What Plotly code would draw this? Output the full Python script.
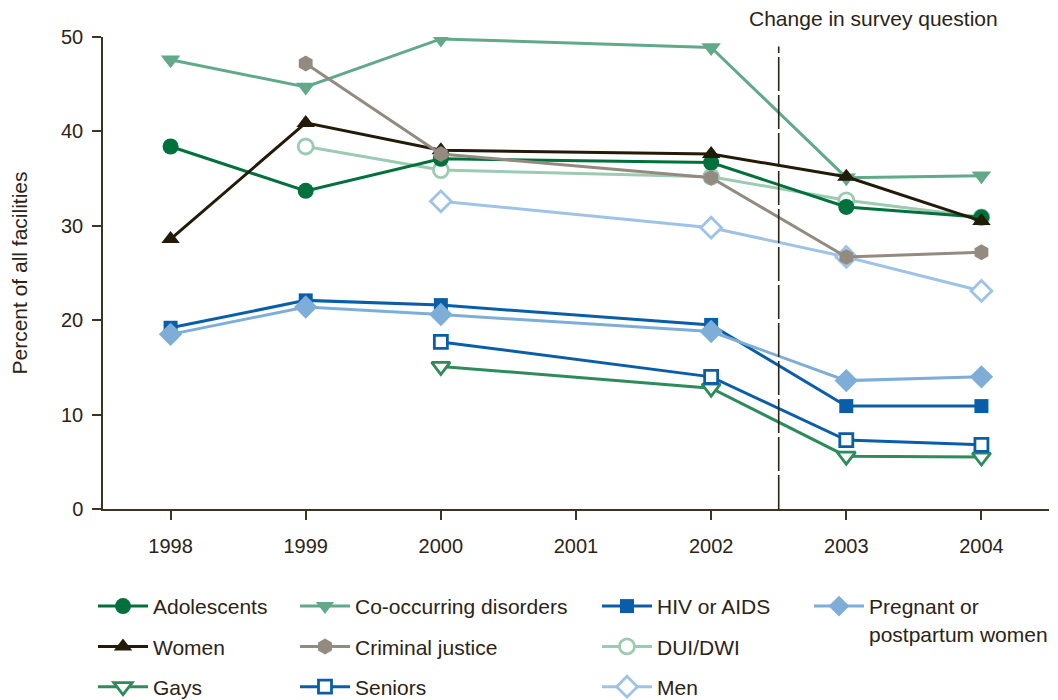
import plotly.graph_objects as go

years = [1998, 1999, 2000, 2002, 2003, 2004]
years_99 = [1999, 2000, 2002, 2003, 2004]
years_00 = [2000, 2002, 2003, 2004]

adolescents = [38.4, 33.7, 37.1, 36.7, 32.0, 30.9]
co_occurring = [47.6, 44.7, 49.8, 48.9, 35.1, 35.3]
hiv_aids = [19.2, 22.1, 21.6, 19.5, 10.9, 10.9]
pregnant = [18.5, 21.4, 20.6, 18.8, 13.6, 14.0]
women = [28.6, 40.9, 38.0, 37.6, 35.2, 30.5]
criminal_justice = [47.2, 37.6, 35.1, 26.7, 27.2]
dui_dwi = [38.4, 35.9, 35.2, 32.7, 30.9]
gays = [15.1, 12.8, 5.6, 5.5]
seniors = [17.7, 14.0, 7.3, 6.8]
men = [32.6, 29.8, 26.7, 23.1]

tick_years = [1998, 1999, 2000, 2001, 2002, 2003, 2004]
survey_change_x = 2002.5

FONT = "Liberation Sans"
TXT = "#2b2416"
AX = "#3d3424"

# (name, x, y, color, symbol, filled, size, legend, rank)
series = [
    ("Men", years_00, men, "#9ec3e6", "diamond", False, 16, "legend3", 3),
    ("Gays", years_00, gays, "#2e8b5c", "triangle-down", False, 16, "legend", 3),
    ("Seniors", years_00, seniors, "#0a5ea8", "square", False, 13, "legend2", 3),
    ("HIV or AIDS", years, hiv_aids, "#0a5ea8", "square", True, 14, "legend3", 1),
    ("Pregnant or<br>postpartum women", years, pregnant, "#7eaed8", "diamond", True, 18, "legend4", 1),
    ("DUI/DWI", years_99, dui_dwi, "#9ccbb2", "circle", False, 15, "legend3", 2),
    ("Co-occurring disorders", years, co_occurring, "#62a98a", "triangle-down", True, 17, "legend2", 1),
    ("Adolescents", years, adolescents, "#00703c", "circle", True, 16, "legend", 1),
    ("Women", years, women, "#231a08", "triangle-up", True, 16, "legend", 2),
    ("Criminal justice", years_99, criminal_justice, "#938b80", "hexagon", True, 16, "legend2", 2),
]

fig = go.Figure()
for name, xs, ys, col, sym, filled, size, leg, rank in series:
    if filled:
        marker = dict(symbol=sym, size=size, color=col, line=dict(width=0))
    else:
        marker = dict(symbol=sym, size=size, color="white", line=dict(width=2.8, color=col))
    fig.add_trace(go.Scatter(
        x=xs, y=ys, name=name, mode="lines+markers",
        line=dict(color=col, width=3),
        marker=marker,
        legend=leg, legendrank=rank, legendgroup=name,
    ))

fig.add_shape(type="line", xref="x", yref="y", x0=survey_change_x, x1=survey_change_x,
              y0=0, y1=49, line=dict(color="#2b2416", width=1.6, dash="34px,4px"))
fig.add_annotation(text="Change in survey question", xref="paper", yref="paper",
                   x=0.814, y=1.04, xanchor="center", yanchor="middle", showarrow=False,
                   font=dict(family=FONT, size=21, color=TXT))

# page body has an 8px offset: screen px = figure px + 8
leg_common = dict(orientation="v", yanchor="top", xanchor="left", y=-0.163,
                  font=dict(family=FONT, size=21, color=TXT), itemwidth=50,
                  tracegroupgap=10, bgcolor="rgba(0,0,0,0)", valign="top")
colx = [93, 295, 597, 809]

fig.update_layout(
    width=1058, height=700,
    margin=dict(l=95, r=17, t=29, b=199, autoexpand=False),
    paper_bgcolor="white", plot_bgcolor="white",
    font=dict(family=FONT, size=20, color=TXT),
    showlegend=True,
    legend=dict(**leg_common, x=(colx[0] - 103) / 946),
    legend2=dict(**leg_common, x=(colx[1] - 103) / 946),
    legend3=dict(**leg_common, x=(colx[2] - 103) / 946),
    legend4=dict(**leg_common, x=(colx[3] - 103) / 946),
    xaxis=dict(range=[1997.5, 2004.5], tickvals=tick_years, ticktext=[str(t) for t in tick_years],
               showline=True, linecolor=AX, linewidth=1.5, ticks="outside", ticklen=9,
               tickcolor=AX, tickwidth=1.5, showgrid=False, zeroline=False, automargin=False,
               ticklabelstandoff=9,
               tickfont=dict(family=FONT, size=20, color=TXT)),
    yaxis=dict(range=[0, 50], dtick=10, showline=True, linecolor=AX, linewidth=1.5,
               ticks="outside", ticklen=9, tickcolor=AX, tickwidth=1.5,
               showgrid=False, zeroline=False, automargin=False,
               ticklabelstandoff=5,
               tickfont=dict(family=FONT, size=20, color=TXT),
               title=dict(text="Percent of all facilities", standoff=29,
                          font=dict(family=FONT, size=21, color=TXT))),
)

fig.write_html("out.html")
